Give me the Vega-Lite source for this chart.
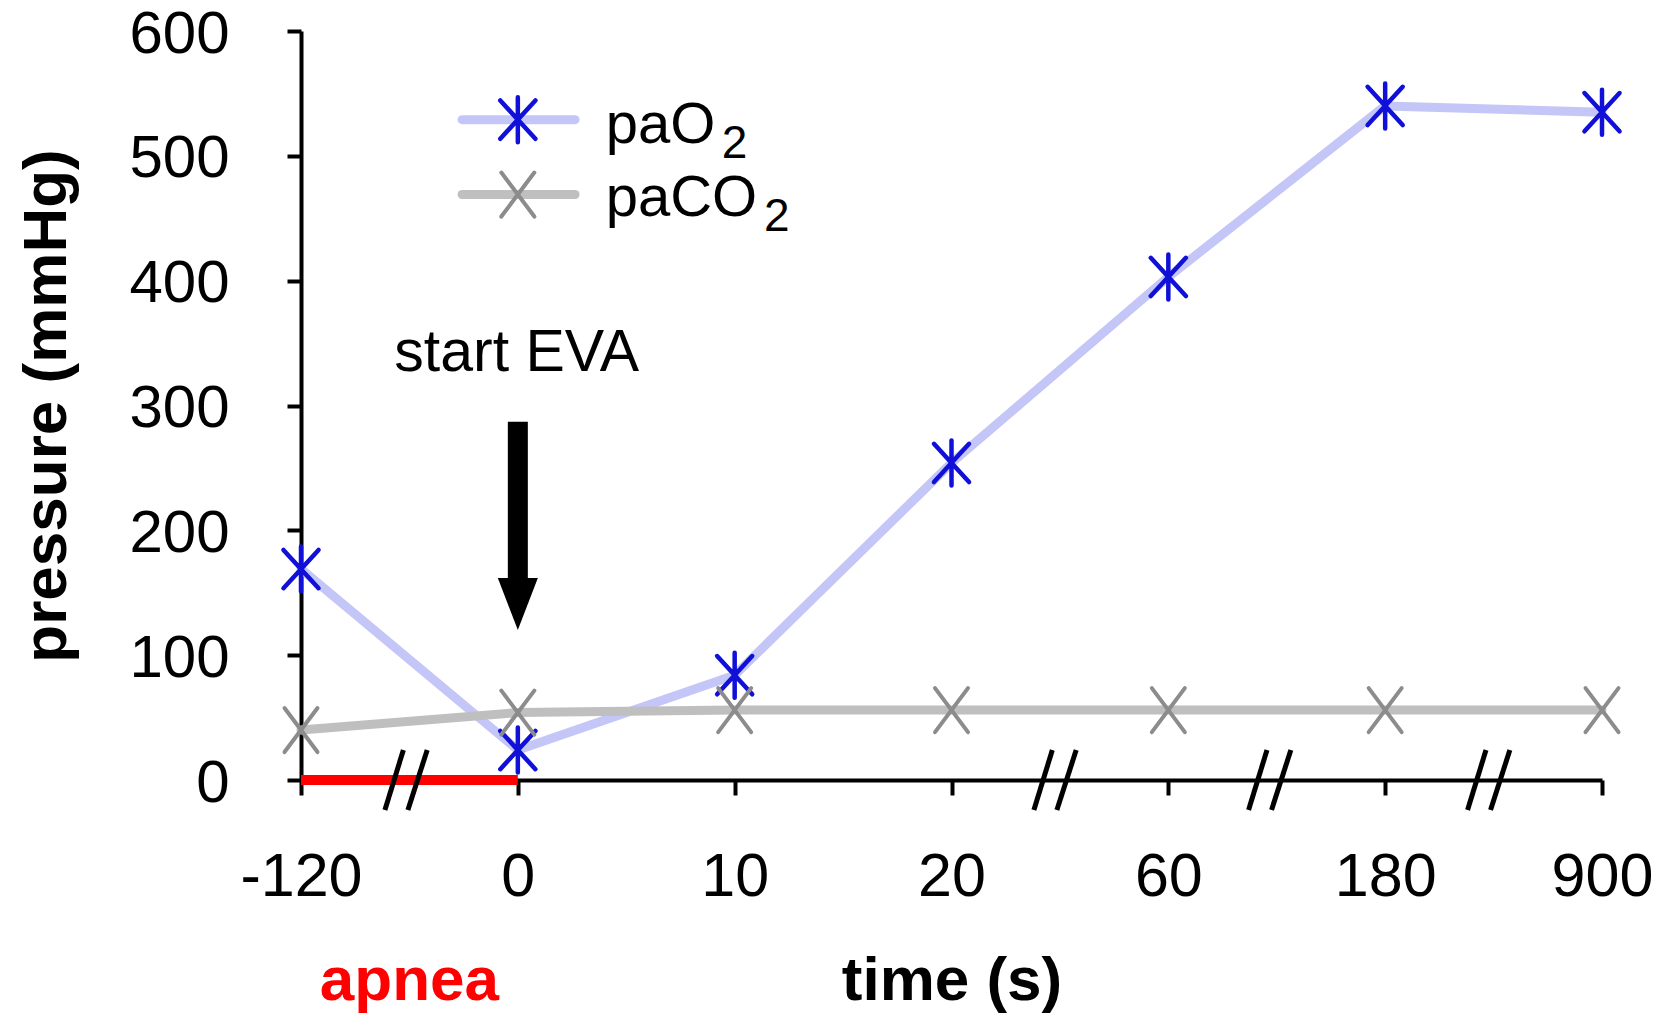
{
  "$schema": "https://vega.github.io/schema/vega-lite/v6.json",
  "width": 1301,
  "height": 749,
  "autosize": {"type": "none"},
  "padding": {"left": 301, "top": 31, "right": 62, "bottom": 233},
  "background": "white",
  "config": {"view": {"stroke": null}, "font": "Liberation Sans"},
  "datasets": {
    "gas": [
      {"time": "-120", "paO2": 169, "paCO2": 40},
      {"time": "0", "paO2": 24, "paCO2": 54},
      {"time": "10", "paO2": 84, "paCO2": 56},
      {"time": "20", "paO2": 254, "paCO2": 56},
      {"time": "60", "paO2": 403, "paCO2": 56},
      {"time": "180", "paO2": 540, "paCO2": 56},
      {"time": "900", "paO2": 535, "paCO2": 56}
    ],
    "breaks": [{"at": 0.487}, {"at": 3.48}, {"at": 4.47}, {"at": 5.48}]
  },
  "resolve": {"scale": {"x": "independent"}},
  "layer": [
    {
      "data": {"name": "gas"},
      "mark": {"type": "line", "color": "#c3c6f6", "strokeWidth": 9, "strokeCap": "round", "strokeJoin": "round"},
      "encoding": {
        "x": {"field": "time", "type": "ordinal", "sort": null,
          "scale": {"type": "point", "domain": ["-120", "0", "10", "20", "60", "180", "900"], "padding": 0},
          "axis": {"title": "time (s)", "labelAngle": 0, "labelFontSize": 61, "labelColor": "black", "labelPadding": 52,
            "tickSize": 15, "tickWidth": 4, "tickColor": "black", "domainColor": "black", "domainWidth": 4,
            "titleFontSize": 62, "titleFontWeight": "bold", "titleColor": "black", "titlePadding": 43, "grid": false}},
        "y": {"field": "paO2", "type": "quantitative", "title": "pressure (mmHg)",
          "scale": {"domain": [0, 600], "nice": false},
          "axis": {"values": [0, 100, 200, 300, 400, 500, 600], "title": "pressure (mmHg)", "labelFontSize": 60, "labelColor": "black",
            "labelPadding": 58, "labelOffset": 3, "tickSize": 14, "tickWidth": 4, "tickColor": "black", "domainColor": "black", "domainWidth": 4,
            "grid": false, "titleFontSize": 62, "titleFontWeight": "bold", "titleColor": "black", "titlePadding": 50}}
      }
    },
    {
      "data": {"name": "gas"},
      "mark": {"type": "point", "shape": "M0,-1L0,1M-0.78,-0.85L0.78,0.85M-0.78,0.85L0.78,-0.85", "size": 2025,
        "filled": false, "stroke": "#1010d8", "strokeWidth": 4.5, "opacity": 1, "strokeCap": "round"},
      "encoding": {
        "x": {"field": "time", "type": "ordinal", "sort": null,
          "scale": {"type": "point", "domain": ["-120", "0", "10", "20", "60", "180", "900"], "padding": 0}, "axis": null},
        "y": {"field": "paO2", "type": "quantitative", "title": "pressure (mmHg)"}
      }
    },
    {
      "data": {"name": "gas"},
      "mark": {"type": "line", "color": "#bfbfbf", "strokeWidth": 9, "strokeCap": "round", "strokeJoin": "round"},
      "encoding": {
        "x": {"field": "time", "type": "ordinal", "sort": null,
          "scale": {"type": "point", "domain": ["-120", "0", "10", "20", "60", "180", "900"], "padding": 0}, "axis": null},
        "y": {"field": "paCO2", "type": "quantitative", "title": "pressure (mmHg)"}
      }
    },
    {
      "data": {"name": "gas"},
      "mark": {"type": "point", "shape": "M-0.75,-1L0.75,1M-0.75,1L0.75,-1", "size": 1936,
        "filled": false, "stroke": "#8c8c8c", "strokeWidth": 4, "opacity": 1, "strokeCap": "round"},
      "encoding": {
        "x": {"field": "time", "type": "ordinal", "sort": null,
          "scale": {"type": "point", "domain": ["-120", "0", "10", "20", "60", "180", "900"], "padding": 0}, "axis": null},
        "y": {"field": "paCO2", "type": "quantitative", "title": "pressure (mmHg)"}
      }
    },
    {
      "data": {"values": [{"label": "apnea"}]},
      "mark": {"type": "rule", "color": "#ff0000", "strokeWidth": 10, "strokeCap": "butt"},
      "encoding": {
        "x": {"datum": 0, "type": "quantitative", "scale": {"domain": [0, 6], "nice": false, "zero": false}, "axis": null},
        "x2": {"datum": 1},
        "y": {"datum": 0, "type": "quantitative"}
      }
    },
    {
      "data": {"name": "breaks"},
      "transform": [{"calculate": "datum.at - 0.1", "as": "a1"}, {"calculate": "datum.at - 0.015", "as": "a2"}],
      "mark": {"type": "rule", "color": "black", "strokeWidth": 5},
      "encoding": {
        "x": {"field": "a1", "type": "quantitative", "scale": {"domain": [0, 6], "nice": false, "zero": false}, "axis": null},
        "x2": {"field": "a2"},
        "y": {"datum": -24, "type": "quantitative"},
        "y2": {"datum": 24}
      }
    },
    {
      "data": {"name": "breaks"},
      "transform": [{"calculate": "datum.at + 0.006", "as": "a1"}, {"calculate": "datum.at + 0.095", "as": "a2"}],
      "mark": {"type": "rule", "color": "black", "strokeWidth": 5},
      "encoding": {
        "x": {"field": "a1", "type": "quantitative", "scale": {"domain": [0, 6], "nice": false, "zero": false}, "axis": null},
        "x2": {"field": "a2"},
        "y": {"datum": -24, "type": "quantitative"},
        "y2": {"datum": 24}
      }
    },
    {
      "data": {"values": [{"label": "arrow"}]},
      "mark": {"type": "rule", "color": "black", "strokeWidth": 20, "strokeCap": "butt"},
      "encoding": {
        "x": {"datum": 1, "type": "quantitative", "scale": {"domain": [0, 6], "nice": false, "zero": false}, "axis": null},
        "y": {"datum": 287, "type": "quantitative"},
        "y2": {"datum": 155}
      }
    },
    {
      "data": {"values": [{"label": "arrowhead"}]},
      "mark": {"type": "point", "shape": "M-0.77,-1L0.77,-1L0,1Z", "size": 2704, "filled": true, "color": "black", "opacity": 1, "strokeWidth": 0},
      "encoding": {
        "x": {"datum": 1, "type": "quantitative", "scale": {"domain": [0, 6], "nice": false, "zero": false}, "axis": null},
        "y": {"datum": 141, "type": "quantitative"}
      }
    },
    {
      "data": {"values": [{"label": "start EVA"}]},
      "mark": {"type": "text", "fontSize": 59, "color": "black", "align": "center", "baseline": "alphabetic"},
      "encoding": {
        "x": {"datum": 0.995, "type": "quantitative", "scale": {"domain": [0, 6], "nice": false, "zero": false}, "axis": null},
        "y": {"datum": 328, "type": "quantitative"},
        "text": {"field": "label"}
      }
    },
    {
      "data": {"values": [{"label": "apnea"}]},
      "mark": {"type": "text", "fontSize": 62, "fontWeight": "bold", "color": "#ff0000", "align": "center", "baseline": "alphabetic"},
      "encoding": {
        "x": {"datum": 0.5, "type": "quantitative", "scale": {"domain": [0, 6], "nice": false, "zero": false}, "axis": null},
        "y": {"datum": -176, "type": "quantitative"},
        "text": {"field": "label"}
      }
    },
    {
      "data": {"values": [{"series": "paO2"}]},
      "mark": {"type": "rule", "color": "#c3c6f6", "strokeWidth": 9, "strokeCap": "round"},
      "encoding": {
        "x": {"datum": 0.743, "type": "quantitative", "scale": {"domain": [0, 6], "nice": false, "zero": false}, "axis": null},
        "x2": {"datum": 1.264},
        "y": {"datum": 529, "type": "quantitative"}
      }
    },
    {
      "data": {"values": [{"series": "paO2"}]},
      "mark": {"type": "point", "shape": "M0,-1L0,1M-0.78,-0.85L0.78,0.85M-0.78,0.85L0.78,-0.85", "size": 2025,
        "filled": false, "stroke": "#1010d8", "strokeWidth": 4.5, "opacity": 1, "strokeCap": "round"},
      "encoding": {
        "x": {"datum": 1, "type": "quantitative", "scale": {"domain": [0, 6], "nice": false, "zero": false}, "axis": null},
        "y": {"datum": 529, "type": "quantitative"}
      }
    },
    {
      "data": {"values": [{"series": "paCO2"}]},
      "mark": {"type": "rule", "color": "#bfbfbf", "strokeWidth": 9, "strokeCap": "round"},
      "encoding": {
        "x": {"datum": 0.743, "type": "quantitative", "scale": {"domain": [0, 6], "nice": false, "zero": false}, "axis": null},
        "x2": {"datum": 1.264},
        "y": {"datum": 469, "type": "quantitative"}
      }
    },
    {
      "data": {"values": [{"series": "paCO2"}]},
      "mark": {"type": "point", "shape": "M-0.75,-1L0.75,1M-0.75,1L0.75,-1", "size": 1936,
        "filled": false, "stroke": "#8c8c8c", "strokeWidth": 4, "opacity": 1, "strokeCap": "round"},
      "encoding": {
        "x": {"datum": 1, "type": "quantitative", "scale": {"domain": [0, 6], "nice": false, "zero": false}, "axis": null},
        "y": {"datum": 469, "type": "quantitative"}
      }
    },
    {
      "data": {"values": [{"label": "paO"}]},
      "mark": {"type": "text", "fontSize": 58, "color": "black", "align": "left", "baseline": "alphabetic"},
      "encoding": {
        "x": {"datum": 1.405, "type": "quantitative", "scale": {"domain": [0, 6], "nice": false, "zero": false}, "axis": null},
        "y": {"datum": 510, "type": "quantitative"},
        "text": {"field": "label"}
      }
    },
    {
      "data": {"values": [{"label": "2"}]},
      "mark": {"type": "text", "fontSize": 46, "color": "black", "align": "left", "baseline": "alphabetic"},
      "encoding": {
        "x": {"datum": 1.94, "type": "quantitative", "scale": {"domain": [0, 6], "nice": false, "zero": false}, "axis": null},
        "y": {"datum": 498, "type": "quantitative"},
        "text": {"field": "label"}
      }
    },
    {
      "data": {"values": [{"label": "paCO"}]},
      "mark": {"type": "text", "fontSize": 58, "color": "black", "align": "left", "baseline": "alphabetic"},
      "encoding": {
        "x": {"datum": 1.405, "type": "quantitative", "scale": {"domain": [0, 6], "nice": false, "zero": false}, "axis": null},
        "y": {"datum": 452, "type": "quantitative"},
        "text": {"field": "label"}
      }
    },
    {
      "data": {"values": [{"label": "2"}]},
      "mark": {"type": "text", "fontSize": 46, "color": "black", "align": "left", "baseline": "alphabetic"},
      "encoding": {
        "x": {"datum": 2.135, "type": "quantitative", "scale": {"domain": [0, 6], "nice": false, "zero": false}, "axis": null},
        "y": {"datum": 440, "type": "quantitative"},
        "text": {"field": "label"}
      }
    }
  ]
}
